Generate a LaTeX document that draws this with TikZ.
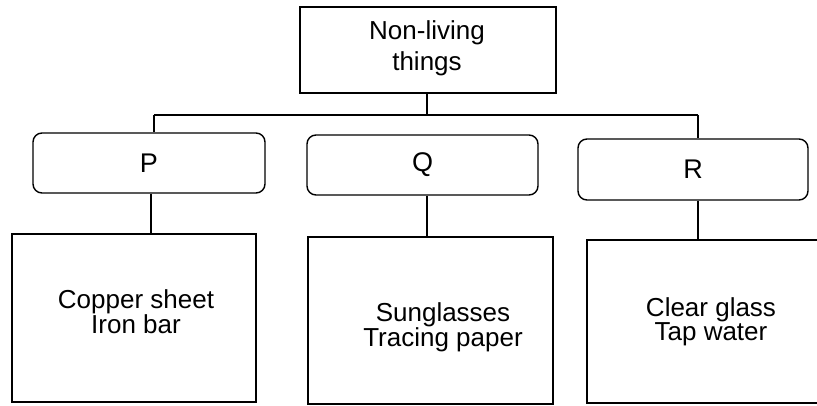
\documentclass[tikz,border=0pt]{standalone}
\usepackage{fontspec}
\setmainfont{Liberation Sans}
\begin{document}
\begin{tikzpicture}[x=1pt,y=-1pt,
  box/.style={draw,line width=1.4pt,inner sep=0pt},
  rbox/.style={box,rounded corners=9pt,font=\fontsize{27}{30}\selectfont},
  lbl/.style={align=center,inner sep=0pt},
  conn/.style={line width=1.4pt}]
\useasboundingbox (0,0) rectangle (817,406);
% top box
\node[box,minimum width=256pt,minimum height=86pt] (top) at (428,50) {};
\node[lbl,font=\fontsize{26}{31.5}\selectfont] (topt) at (427,48.5) {Non-living\\things};
% middle rounded boxes
\node[rbox,minimum width=232pt,minimum height=60pt] (P) at (149,163) {P};
\node[rbox,minimum width=231pt,minimum height=60pt] (Q) at (422.5,165) {Q};
\node[rbox,minimum width=230pt,minimum height=61pt] (R) at (693,169.5) {R};
% bottom boxes
\node[box,minimum width=244pt,minimum height=168pt] (Pb) at (134,318) {};
\node[box,minimum width=245pt,minimum height=167pt] (Qb) at (430.5,320.5) {};
\node[box,minimum width=248pt,minimum height=163pt] (Rb) at (711,321.5) {};
\node[lbl,font=\fontsize{26}{22}\selectfont] (Pbt) at (136,311.5) {Copper sheet\\Iron bar};
\node[lbl,font=\fontsize{26}{25}\selectfont] (Qbt) at (443,327.5) {Sunglasses\\Tracing paper};
\node[lbl,font=\fontsize{26}{23}\selectfont] (Rbt) at (711,321.5) {Clear glass\\Tap water};
% connectors
\coordinate (jP) at (154,115);
\coordinate (jR) at (698,115);
\coordinate (sP) at (151,0);
\coordinate (sQ) at (427,0);
\coordinate (sR) at (698,0);
\draw[conn] (top.south -| sQ) -- (jP -| sQ);
\draw[conn] (jP) -- (jR);
\draw[conn] (jP) -- (jP |- P.north);
\draw[conn] (jR) -- (jR |- R.north);
\draw[conn] (P.south -| sP) -- (Pb.north -| sP);
\draw[conn] (Q.south -| sQ) -- (Qb.north -| sQ);
\draw[conn] (R.south -| sR) -- (Rb.north -| sR);
\end{tikzpicture}
\end{document}
